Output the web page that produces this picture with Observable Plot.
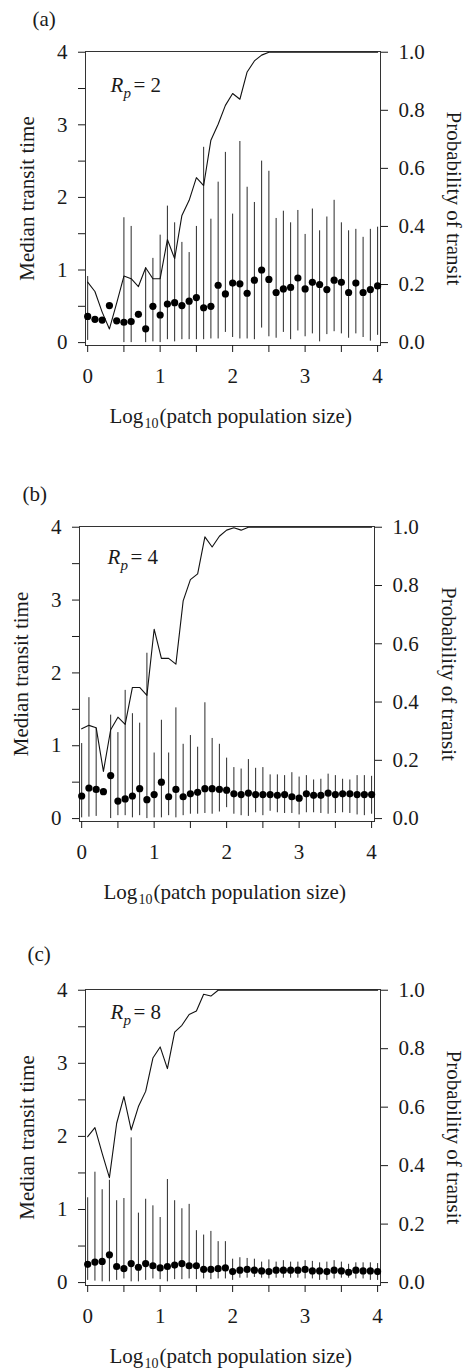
<!DOCTYPE html>
<html><head><meta charset="utf-8">
<script src="https://cdn.jsdelivr.net/npm/d3@7"></script>
<script src="https://cdn.jsdelivr.net/npm/@observablehq/plot@0.6"></script>
<style>html,body{margin:0;padding:0;background:#fff}svg{display:block}</style>
</head><body><div id="chart"></div>
<script>
// x categories: log10(patch population size)
const logN = [0.0,0.1,0.2,0.3,0.4,0.5,0.6,0.7,0.8,0.9,1.0,1.1,1.2,1.3,1.4,1.5,1.6,1.7,1.8,1.9,2.0,
              2.1,2.2,2.3,2.4,2.5,2.6,2.7,2.8,2.9,3.0,3.1,3.2,3.3,3.4,3.5,3.6,3.7,3.8,3.9,4.0];

// Panel (a) Rp = 2
const medianA = [0.36,0.32,0.31,0.51,0.30,0.28,0.29,0.39,0.19,0.50,0.38,0.53,0.55,0.51,0.57,0.62,0.48,0.50,0.79,0.67,
                 0.82,0.81,0.68,0.86,1.00,0.87,0.69,0.74,0.76,0.89,0.74,0.83,0.80,0.73,0.86,0.83,0.69,0.82,0.69,0.73,0.78];
const lowA  = [0.03,null,null,null,null,0.00,0.00,null,0.00,0.01,0.00,0.04,0.01,0.04,0.04,0.04,0.04,0.05,0.05,0.14,
               0.07,0.05,0.05,0.04,0.20,0.08,0.06,0.14,0.04,0.16,0.08,0.12,0.01,0.11,0.15,0.12,0.06,0.12,0.07,0.02,0.10];
const highA = [0.91,null,null,null,null,1.72,1.60,null,1.03,1.16,1.48,1.88,1.65,1.38,1.24,1.60,2.69,1.70,2.21,2.62,
               1.77,2.77,2.14,1.93,2.50,2.36,1.71,1.81,1.65,1.82,1.49,1.84,1.54,1.73,1.96,1.65,1.54,1.56,1.45,1.56,1.59];
const probA = [0.208,0.176,0.105,0.047,0.136,0.229,0.220,0.193,0.258,0.220,0.220,0.355,0.289,0.438,0.490,0.568,0.541,0.697,0.752,0.817,
               0.858,0.838,0.932,0.970,0.990,1.0,1.0,1.0,1.0,1.0,1.0,1.0,1.0,1.0,1.0,1.0,1.0,1.0,1.0,1.0,1.0];

// Panel (b) Rp = 4
const medianB = [0.31,0.42,0.40,0.37,0.59,0.24,0.27,0.31,0.41,0.26,0.33,0.50,0.30,0.40,0.30,0.34,0.36,0.41,0.41,0.40,
                 0.39,0.34,0.33,0.35,0.33,0.33,0.33,0.32,0.33,0.30,0.28,0.34,0.32,0.32,0.35,0.33,0.34,0.34,0.33,0.33,0.33];
const lowB  = [0.01,0.02,0.03,null,0.00,0.04,0.04,0.01,0.04,0.00,0.01,0.01,0.04,0.01,0.04,0.06,0.06,0.07,0.06,0.09,
               0.15,0.06,0.04,0.03,0.08,0.04,0.10,0.08,0.07,0.07,0.05,0.08,0.08,0.07,0.06,0.07,0.08,0.07,0.05,0.04,0.06];
const highB = [1.03,1.66,1.24,null,1.42,1.18,1.76,1.44,1.31,2.27,0.90,1.35,0.90,1.52,1.02,1.14,0.98,1.59,1.10,1.02,
               0.83,0.70,0.68,0.81,0.69,0.70,0.60,0.60,0.59,0.63,0.57,0.59,0.53,0.54,0.61,0.59,0.54,0.53,0.59,0.59,0.58];
const probB = [0.308,0.320,0.312,0.162,0.305,0.348,0.323,0.450,0.450,0.423,0.650,0.550,0.550,0.530,0.747,0.820,0.840,0.967,0.932,0.969,
               0.990,0.998,0.990,1.0,1.0,1.0,1.0,1.0,1.0,1.0,1.0,1.0,1.0,1.0,1.0,1.0,1.0,1.0,1.0,1.0,1.0];

// Panel (c) Rp = 8
const medianC = [0.25,0.28,0.29,0.38,0.22,0.19,0.26,0.21,0.26,0.23,0.20,0.22,0.24,0.26,0.23,0.23,0.18,0.18,0.19,0.20,
                 0.15,0.17,0.18,0.17,0.16,0.15,0.17,0.17,0.17,0.17,0.18,0.16,0.16,0.15,0.17,0.16,0.14,0.17,0.16,0.16,0.15];
const lowC  = [0.03,0.02,0.01,0.01,0.03,0.05,0.01,0.01,0.03,0.05,0.04,0.01,0.04,0.04,0.05,0.04,0.05,0.04,0.05,0.05,
               0.03,0.06,0.06,0.07,0.06,0.05,0.06,0.06,0.06,0.06,0.05,0.05,0.03,0.03,0.05,0.06,0.06,0.05,0.05,0.03,0.03];
const highC = [1.16,1.51,1.27,1.40,1.12,1.15,1.98,0.95,1.14,1.05,0.89,1.41,1.12,1.01,1.07,0.71,0.65,0.70,0.56,0.56,
               0.32,0.34,0.33,0.32,0.28,0.31,0.28,0.30,0.28,0.28,0.30,0.29,0.27,0.28,0.30,0.28,0.25,0.27,0.27,0.27,0.26];
const probC = [0.499,0.530,0.442,0.359,0.545,0.636,0.522,0.602,0.654,0.768,0.806,0.732,0.857,0.880,0.917,0.929,0.986,0.980,1.0,1.0,
               1.0,1.0,1.0,1.0,1.0,1.0,1.0,1.0,1.0,1.0,1.0,1.0,1.0,1.0,1.0,1.0,1.0,1.0,1.0,1.0,1.0];

// axis ticks and labels
const leftTicks = [0,0.5,1,1.5,2,2.5,3,3.5,4];
const leftTickLabels = ["0","","1","","2","","3","","4"];
const probTicks = [0,0.2,0.4,0.6,0.8,1.0];
const probTickLabels = ["0.0","0.2","0.4","0.6","0.8","1.0"];
const xTicks = [0,0.5,1,1.5,2,2.5,3,3.5,4];
const xTickLabels = ["0","","1","","2","","3","","4"];

const panelLabels = ["(a)","(b)","(c)"];
const rpValues = ["2","4","8"];
const yTitle = "Median transit time";
const y2Title = "Probability of transit";

const FONT = "'Liberation Serif', 'Times New Roman', serif";
const INK = "#1a1a1a";

function panel(cfg) {
  const data = logN.map((x, i) => ({x, m: cfg.median[i], lo: cfg.low[i], hi: cfg.high[i], p: cfg.prob[i]}));
  const bars = data.filter(d => d.lo != null && d.hi != null);
  const t = (txt, o) => Plot.text([txt], Object.assign({text: d => d, fill: INK, fontSize: 21, fontFamily: FONT, textAnchor: "start", lineAnchor: "bottom"}, o));
  return Plot.plot({
    width: 465,
    height: cfg.height,
    marginLeft: cfg.ml, marginRight: cfg.mr, marginTop: cfg.mt, marginBottom: cfg.mb,
    x: {domain: [-0.03, 4.04]},
    y: {domain: [-0.04, 4.01]},
    style: {fontFamily: FONT, fontSize: "21px", color: INK, background: "#fff", overflow: "visible"},
    marks: [
      Plot.frame({stroke: "#333", strokeWidth: 1}),
      Plot.ruleX(bars, {x: "x", y1: "lo", y2: "hi", stroke: "#2a2a2a", strokeWidth: 1}),
      Plot.line(data, {x: "x", y: d => d.p * 4, stroke: "#111", strokeWidth: 1.1}),
      Plot.dot(data, {x: "x", y: "m", r: 3.6, fill: "#000", stroke: "none"}),
      Plot.axisY(leftTicks, {anchor: "left", tickSize: 7, tickPadding: 11, label: null, fontFamily: FONT,
        tickFormat: d => leftTickLabels[leftTicks.indexOf(d)], fontSize: 21}),
      Plot.axisY(probTicks.map(p => p * 4), {anchor: "right", tickSize: 7, tickPadding: 11, label: null, fontFamily: FONT,
        tickFormat: d => probTickLabels[Math.round(d / 0.8)], fontSize: 21}),
      Plot.axisX(xTicks, {anchor: "bottom", tickSize: 7, tickPadding: 16, label: null, fontFamily: FONT,
        tickFormat: d => xTickLabels[xTicks.indexOf(d)], fontSize: 21}),
      // panel label
      t(cfg.label, {frameAnchor: "top-left", dx: cfg.labDx, dy: cfg.labDy}),
      // R_p annotation
      t("R", {frameAnchor: "top-left", dx: cfg.rDx, dy: cfg.rDy, fontStyle: "italic"}),
      t("p", {frameAnchor: "top-left", dx: cfg.rDx + 13, dy: cfg.rDy + 6, fontStyle: "italic", fontSize: 15}),
      t("= " + cfg.rp, {frameAnchor: "top-left", dx: cfg.rDx + 23, dy: cfg.rDy}),
      // axis titles
      t(yTitle, {frameAnchor: "left", dx: cfg.ytDx, rotate: -90, textAnchor: "middle", lineAnchor: "middle"}),
      t(y2Title, {frameAnchor: "right", dx: cfg.y2tDx, rotate: 90, textAnchor: "middle", lineAnchor: "middle"}),
      t("Log", {frameAnchor: "bottom-left", dx: 24, dy: 77}),
      t("10", {frameAnchor: "bottom-left", dx: 59, dy: 82, fontSize: 14}),
      t("(patch population size)", {frameAnchor: "bottom-left", dx: 74, dy: 77})
    ]
  });
}

const root = document.getElementById("chart");
root.append(panel({height: 450, ml: 85, mr: 85, mt: 51, mb: 105,
  median: medianA, low: lowA, high: highA, prob: probA,
  label: panelLabels[0], labDx: -53, labDy: -26, rp: rpValues[0], rDx: 25, rDy: 40,
  ytDx: -58, y2tDx: 73}));
root.append(panel({height: 455, ml: 79, mr: 91, mt: 76, mb: 84,
  median: medianB, low: lowB, high: highB, prob: probB,
  label: panelLabels[1], labDx: -57, labDy: -26, rp: rpValues[1], rDx: 28, rDy: 37,
  ytDx: -58, y2tDx: 74.5}));
root.append(panel({height: 463, ml: 85, mr: 85, mt: 84, mb: 83,
  median: medianC, low: lowC, high: highC, prob: probC,
  label: panelLabels[2], labDx: -58, labDy: -29, rp: rpValues[2], rDx: 25, rDy: 29,
  ytDx: -58, y2tDx: 73.5}));
</script>
</body></html>
